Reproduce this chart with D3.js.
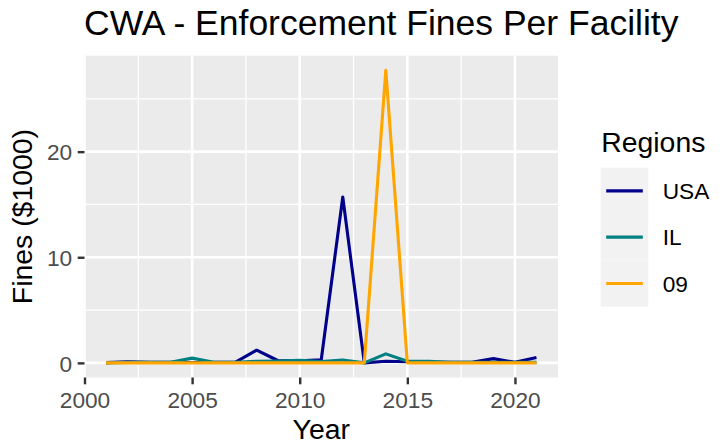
<!DOCTYPE html>
<html>
<head>
<meta charset="utf-8">
<script src="https://cdn.jsdelivr.net/npm/d3@7"></script>
<style>
  body { margin: 0; background: #fff; }
  svg { display: block; font-family: "Liberation Sans", Arial, sans-serif; }
</style>
</head>
<body>
<div id="chart"></div>
<script>
// Data
const years = [2001, 2002, 2003, 2004, 2005, 2006, 2007, 2008, 2009, 2010, 2011,
  2012, 2013, 2014, 2015, 2016, 2017, 2018, 2019, 2020, 2021];
const usaFines = [0.02, 0.1, 0.05, 0.05, 0.03, 0.05, 0.05, 1.2, 0.2, 0.2, 0.3,
  15.7, 0.0, 0.15, 0.1, 0.05, 0.05, 0.05, 0.4, 0.05, 0.5];
const ilFines = [0.0, 0.05, 0.05, 0.05, 0.45, 0.05, 0.05, 0.15, 0.18, 0.25, 0.12,
  0.27, 0.0, 0.85, 0.15, 0.15, 0.05, 0.05, 0.05, 0.05, 0.05];
const r09Fines = [0, 0, 0, 0, 0, 0, 0, 0, 0, 0, 0,
  0, 0, 27.7, 0, 0, 0, 0, 0, 0, 0];
const regions = ["USA", "IL", "09"];
const regionColors = ["#00008B", "#008080", "#FFA500"];
const xTicks = [2000, 2005, 2010, 2015, 2020];
const yTicks = [0, 10, 20];

const w = 727, h = 444;
const panel = { left: 84.5, right: 558, top: 55.7, bottom: 377.5 };

const series = regions.map((name, i) => ({
  name,
  color: regionColors[i],
  values: [usaFines, ilFines, r09Fines][i].map((v, j) => ({ year: years[j], value: v }))
}));

// ggplot-like 5% expansion
const xExt = d3.extent(years);
const xPad = (xExt[1] - xExt[0]) * 0.05;
const allVals = usaFines.concat(ilFines, r09Fines);
const yExt = d3.extent(allVals);
const yPad = (yExt[1] - yExt[0]) * 0.05;

const xScale = d3.scaleLinear()
  .domain([xExt[0] - xPad, xExt[1] + xPad])
  .range([panel.left, panel.right]);
const yScale = d3.scaleLinear()
  .domain([yExt[0] - yPad, yExt[1] + yPad])
  .range([panel.bottom, panel.top]);

const svg = d3.select("#chart").append("svg")
  .attr("width", w)
  .attr("height", h);

// panel background
svg.append("rect")
  .attr("x", panel.left)
  .attr("y", panel.top)
  .attr("width", panel.right - panel.left)
  .attr("height", panel.bottom - panel.top)
  .attr("fill", "#EBEBEB");

// minor grid
const xMinor = xTicks.slice(0, -1).map(t => t + 2.5);
const yMinor = [5, 15, 25];
svg.append("g").selectAll("line")
  .data(xMinor)
  .enter().append("line")
  .attr("x1", d => xScale(d)).attr("x2", d => xScale(d))
  .attr("y1", panel.top).attr("y2", panel.bottom)
  .attr("stroke", "#fff").attr("stroke-width", 1.3);
svg.append("g").selectAll("line")
  .data(yMinor)
  .enter().append("line")
  .attr("y1", d => yScale(d)).attr("y2", d => yScale(d))
  .attr("x1", panel.left).attr("x2", panel.right)
  .attr("stroke", "#fff").attr("stroke-width", 1.3);

// major grid
svg.append("g").selectAll("line")
  .data(xTicks)
  .enter().append("line")
  .attr("x1", d => xScale(d)).attr("x2", d => xScale(d))
  .attr("y1", panel.top).attr("y2", panel.bottom)
  .attr("stroke", "#fff").attr("stroke-width", 2.6);
svg.append("g").selectAll("line")
  .data(yTicks)
  .enter().append("line")
  .attr("y1", d => yScale(d)).attr("y2", d => yScale(d))
  .attr("x1", panel.left).attr("x2", panel.right)
  .attr("stroke", "#fff").attr("stroke-width", 2.6);

// lines
const line = d3.line()
  .x(d => xScale(d.year))
  .y(d => yScale(d.value));

svg.append("g").selectAll("path")
  .data(series)
  .enter().append("path")
  .attr("d", d => line(d.values))
  .attr("fill", "none")
  .attr("stroke", d => d.color)
  .attr("stroke-width", 3.1)
  .attr("stroke-linejoin", "round");

// axes
const xAxis = d3.axisBottom(xScale)
  .tickValues(xTicks)
  .tickFormat(d3.format("d"))
  .tickSize(6.8)
  .tickPadding(7.3);
const yAxis = d3.axisLeft(yScale)
  .tickValues(yTicks)
  .tickSize(6.8)
  .tickPadding(5.5);

const gx = svg.append("g")
  .attr("transform", `translate(0, ${panel.bottom})`)
  .call(xAxis);
const gy = svg.append("g")
  .attr("transform", `translate(${panel.left}, 0)`)
  .call(yAxis);

[gx, gy].forEach(g => {
  g.select(".domain").remove();
  g.selectAll(".tick line").attr("stroke", "#333333").attr("stroke-width", 2.4);
  g.selectAll(".tick text")
    .attr("fill", "#4D4D4D")
    .style("font-size", "22.7px")
    .style("font-family", "Liberation Sans, Arial, sans-serif");
});
gy.selectAll(".tick text").attr("dy", "0.36em");

// axis titles
svg.append("text")
  .attr("x", (panel.left + panel.right) / 2)
  .attr("y", 439)
  .attr("text-anchor", "middle")
  .style("font-size", "28.4px")
  .text("Year");

svg.append("text")
  .attr("transform", `translate(32, ${(panel.top + panel.bottom) / 2}) rotate(-90)`)
  .attr("text-anchor", "middle")
  .style("font-size", "28.4px")
  .text("Fines ($1000)");

// title
svg.append("text")
  .attr("x", 84)
  .attr("y", 35)
  .style("font-size", "35.5px")
  .text("CWA - Enforcement Fines Per Facility");

// legend
const legend = svg.append("g")
  .attr("transform", "translate(600.7, 167.7)");

legend.append("text")
  .attr("x", 0.5)
  .attr("y", -16)
  .style("font-size", "28.4px")
  .text("Regions");

const keyH = 46.3, keyW = 47.6;
const items = legend.selectAll("g.item")
  .data(series)
  .enter().append("g")
  .attr("class", "item")
  .attr("transform", (d, i) => `translate(0, ${i * keyH})`);

items.append("rect")
  .attr("width", keyW)
  .attr("height", keyH)
  .attr("fill", "#F2F2F2");

items.append("line")
  .attr("x1", 5.5).attr("x2", keyW - 5.5)
  .attr("y1", keyH / 2).attr("y2", keyH / 2)
  .attr("stroke", d => d.color)
  .attr("stroke-width", 3.1);

items.append("text")
  .attr("x", 62)
  .attr("y", keyH / 2)
  .attr("dy", "0.36em")
  .style("font-size", "22.7px")
  .text(d => d.name);
</script>
</body>
</html>
